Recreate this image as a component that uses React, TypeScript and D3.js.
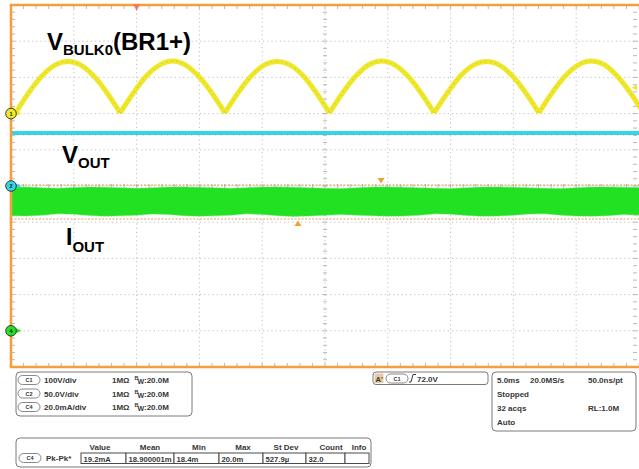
import React from "react";
import * as d3 from "d3";

// ---------- data ----------
const ch1TimeMs = [0, 0.36, 1.40, 2.44, 3.49, 4.53, 5.57, 6.61, 7.65, 8.69, 9.74, 10.78, 11.82, 12.86, 13.90, 14.94, 15.99, 17.03, 18.07, 19.11, 20.15, 21.19, 22.24, 23.28, 24.32, 25.36, 26.40, 27.44, 28.49, 29.53, 30.57, 31.61, 32.65, 33.69, 34.74, 35.78, 36.82, 37.86, 38.90, 39.94, 40.99, 42.03, 43.07, 44.11, 45.15, 46.19, 47.24, 48.28, 49.32, 50.36];
const ch1Volts = [16, 2, 57, 103, 134, 144, 134, 103, 57, 2, 57, 104, 134, 145, 134, 103, 57, 2, 57, 103, 134, 144, 134, 104, 57, 2, 57, 103, 135, 145, 134, 103, 57, 2, 57, 104, 134, 144, 134, 103, 57, 2, 57, 103, 134, 145, 135, 103, 57, 2];

const ch2TimeMs = [0, 12.5, 25, 37.5, 50];
const ch2Volts = [73.2, 73.1, 73.2, 73.2, 73.1];

const ch4TimeMs = [0, 1.25, 2.5, 3.75, 5, 6.25, 7.5, 8.75, 10, 11.25, 12.5, 13.75, 15, 16.25, 17.5, 18.75, 20, 21.25, 22.5, 23.75, 25, 26.25, 27.5, 28.75, 30, 31.25, 32.5, 33.75, 35, 36.25, 37.5, 38.75, 40, 41.25, 42.5, 43.75, 45, 46.25, 47.5, 48.75, 50];
const ch4MaxMa = [79.3, 79.4, 79.0, 78.8, 79.2, 79.4, 79.3, 79.1, 78.7, 79.0, 79.4, 79.5, 79.3, 79.0, 78.7, 79.1, 79.4, 79.5, 79.3, 79.0, 78.8, 78.6, 79.0, 79.4, 79.5, 79.3, 79.0, 78.8, 78.6, 79.1, 79.4, 79.5, 79.3, 79.0, 78.8, 78.6, 79.0, 79.4, 79.5, 79.3, 79.2];
const ch4MinMa = [63.6, 63.4, 63.9, 64.6, 64.4, 63.7, 63.3, 63.5, 63.8, 64.5, 64.3, 63.6, 63.3, 63.5, 63.9, 64.6, 64.3, 63.6, 63.2, 63.4, 63.8, 64.2, 63.9, 63.5, 63.3, 63.4, 63.8, 64.6, 64.4, 63.7, 63.3, 63.4, 63.8, 64.5, 64.6, 63.9, 63.4, 63.3, 63.6, 64.2, 63.9];

const cursorMa = [80.5, 61.8];
const cursorTimeMs = [29.46, 22.85];
const triggerTimeMs = 10;
const triggerLevelV = 72;

const channelIds = ["1", "2", "4"];
const channelOffsetsDiv = [2, 0, -4];
const channelColors = ["#efe82a", "#35d4e6", "#26e026"];

const infoChannels = ["C1", "C2", "C4"];
const infoScales = ["100V/div", "50.0V/div", "20.0mA/div"];
const infoImpedance = ["1MΩ", "1MΩ", "1MΩ"];
const infoBandwidth = [":20.0M", ":20.0M", ":20.0M"];

const measureHeaders = ["Value", "Mean", "Min", "Max", "St Dev", "Count", "Info"];
const measureValues = ["19.2mA", "18.900001m", "18.4m", "20.0m", "527.9µ", "32.0", ""];

const timebaseRows = [["5.0ms", "20.0MS/s", "50.0ns/pt"], ["Stopped", "", ""], ["32 acqs", "", "RL:1.0M"], ["Auto", "", ""]];

// ---------- layout ----------
const W = 639;
const H = 469;
const PX0 = 11, PX1 = 639, PY0 = 5, PY1 = 367;
const FONT = "'Liberation Sans', Arial, sans-serif";
const ORANGE = "#f3a03a";

export default function App() {
  const x = d3.scaleLinear().domain([0, 50]).range([PX0, PX1]);
  const yDiv = d3.scaleLinear().domain([-5, 5]).range([PY1, PY0]);
  const y1 = (v: number) => yDiv(channelOffsetsDiv[0] + v / 100);
  const y2 = (v: number) => yDiv(channelOffsetsDiv[1] + v / 50);
  const y4 = (ma: number) => yDiv(channelOffsetsDiv[2] + ma / 20);

  // ch1 split into humps at local minima so cusps stay sharp
  const ch1Pts = ch1TimeMs.map((t, i) => [t, ch1Volts[i]] as [number, number]);
  const mins: number[] = [0];
  for (let i = 1; i < ch1Pts.length - 1; i++) {
    if (ch1Pts[i][1] < ch1Pts[i - 1][1] && ch1Pts[i][1] < ch1Pts[i + 1][1]) mins.push(i);
  }
  mins.push(ch1Pts.length - 1);
  const hump = d3.line<[number, number]>().x((d) => x(d[0])).y((d) => y1(d[1])).curve(d3.curveMonotoneX);
  const ch1Path = mins.slice(1).map((end, k) => hump(ch1Pts.slice(mins[k], end + 1)) || "").join(" ");

  const ch2Path = d3.line<number>().x((_, i) => x(ch2TimeMs[i])).y((v) => y2(v))(ch2Volts) || "";

  const ch4Area = d3.area<number>()
    .x((_, i) => x(ch4TimeMs[i]))
    .y0((_, i) => y4(ch4MinMa[i]))
    .y1((v) => y4(v))(ch4MaxMa) || "";
  const ch4Top = d3.line<number>().x((_, i) => x(ch4TimeMs[i])).y((v) => y4(v))(ch4MaxMa) || "";
  const ch4Bot = d3.line<number>().x((_, i) => x(ch4TimeMs[i])).y((v) => y4(v))(ch4MinMa) || "";

  const majorT = d3.range(0, 50.001, 5);
  const majorD = d3.range(-5, 5.001, 1);
  const minorT = d3.range(0, 50.001, 1);
  const minorD = d3.range(-5, 5.001, 0.2);

  const txt = { fontFamily: FONT, fontWeight: 700 as const, fill: "#363636" };

  const pill = (cx: number, cy: number, label: string, key?: string) => (
    <g key={key}>
      <rect x={cx - 11} y={cy - 4.5} width={22} height={9} rx={4.5} fill="#fff" stroke="#6a6a6a" strokeWidth={0.8} />
      <text x={cx} y={cy + 2} fontSize={5.5} textAnchor="middle" style={txt}>{label}</text>
    </g>
  );

  const cellXs = [81, 126, 174, 219, 263, 306, 345, 369];
  const headerXs = [100, 150, 199, 243, 286, 331, 359];

  return (
    <div style={{ position: "absolute", left: 0, top: 0, width: W, height: H, background: "#fff" }}>
      <svg width={W} height={H} viewBox={`0 0 ${W} ${H}`} style={{ display: "block" }}>
        <defs>
          <clipPath id="plotClip">
            <rect x={PX0} y={PY0} width={PX1 - PX0 + 2} height={PY1 - PY0} />
          </clipPath>
        </defs>
        <rect x={0} y={0} width={W} height={H} fill="#fff" />

        {/* graticule dotted grid */}
        <g stroke="#b9b9b9" strokeWidth={0.9} strokeDasharray="1.2 3">
          {majorT.slice(1, -1).map((t) => (
            <line key={"gv" + t} x1={x(t)} x2={x(t)} y1={PY0} y2={PY1} />
          ))}
          {majorD.slice(1, -1).map((d) => (
            <line key={"gh" + d} x1={PX0} x2={PX1} y1={yDiv(d)} y2={yDiv(d)} />
          ))}
        </g>
        {/* edge + center minor ticks */}
        <g stroke="#a8a8a8" strokeWidth={0.8}>
          {minorT.map((t) => (
            <g key={"mt" + t}>
              <line x1={x(t)} x2={x(t)} y1={PY0} y2={PY0 + 4} />
              <line x1={x(t)} x2={x(t)} y1={PY1} y2={PY1 - 4} />
              <line x1={x(t)} x2={x(t)} y1={yDiv(0) - 2} y2={yDiv(0) + 2} />
            </g>
          ))}
          {minorD.map((d) => (
            <g key={"md" + d.toFixed(1)}>
              <line x1={PX0} x2={PX0 + 4} y1={yDiv(d)} y2={yDiv(d)} />
              <line x1={PX1 - 2} x2={PX1 - 6} y1={yDiv(d)} y2={yDiv(d)} />
              <line x1={x(25) - 2} x2={x(25) + 2} y1={yDiv(d)} y2={yDiv(d)} />
            </g>
          ))}
        </g>

        <g clipPath="url(#plotClip)">
          {/* ch4 current band */}
          <path d={ch4Area} fill="#22e022" />
          <path d={ch4Top} fill="none" stroke="#6fe66f" strokeWidth={1.2} strokeDasharray="1 1.5" />
          <path d={ch4Bot} fill="none" stroke="#6fe66f" strokeWidth={1.2} strokeDasharray="1 1.5" />

          {/* cursors */}
          {cursorMa.map((m, i) => (
            <line key={"cur" + i} x1={PX0} x2={PX1} y1={y4(m)} y2={y4(m)} stroke="#dba46c" strokeWidth={1.1} strokeDasharray="2 1.5" />
          ))}

          {/* ch2 */}
          <path d={ch2Path} fill="none" stroke="#35d4e6" strokeWidth={4} />
          <path d={ch2Path} fill="none" stroke="#2a8fc0" strokeWidth={0.8} strokeDasharray="1 5" transform="translate(0,1.8)" opacity={0.7} />

          {/* ch1 */}
          <path d={ch1Path} fill="none" stroke="#efe82a" strokeWidth={5} strokeLinejoin="round" />
          <path d={ch1Path} fill="none" stroke="#8f8a2a" strokeWidth={0.8} strokeDasharray="1 4" opacity={0.55} />
        </g>

        {/* cursor triangles */}
        <path d={`M${x(cursorTimeMs[0]) - 3.5},${y4(cursorMa[0]) - 7} L${x(cursorTimeMs[0]) + 3.5},${y4(cursorMa[0]) - 7} L${x(cursorTimeMs[0])},${y4(cursorMa[0]) - 1.5} Z`} fill="#f0a030" />
        <path d={`M${x(cursorTimeMs[1]) - 3.5},${y4(cursorMa[1]) + 7} L${x(cursorTimeMs[1]) + 3.5},${y4(cursorMa[1]) + 7} L${x(cursorTimeMs[1])},${y4(cursorMa[1]) + 1.5} Z`} fill="#f0a030" />

        {/* frame */}
        <g stroke={ORANGE} strokeWidth={2.6} fill="none">
          <line x1={PX0 - 1.3} x2={W} y1={PY0} y2={PY0} />
          <line x1={PX0 - 1.3} x2={W} y1={PY1} y2={PY1} />
          <line x1={PX0} x2={PX0} y1={PY0} y2={PY1} />
        </g>

        {/* trigger position marker */}
        <path d={`M${x(triggerTimeMs) - 3.5},${PY0 - 1} L${x(triggerTimeMs) + 3.5},${PY0 - 1} L${x(triggerTimeMs)},${PY0 + 6} Z`} fill="#f07a55" />
        {/* trigger level marker */}
        <path d={`M${PX1 - 2},${y1(triggerLevelV) - 3} L${PX1 - 2},${y1(triggerLevelV) + 3} L${PX1 - 7},${y1(triggerLevelV)} Z`} fill="#efe82a" />

        {/* channel markers */}
        {channelIds.map((id, i) => {
          const cy = yDiv(channelOffsetsDiv[i]);
          return (
            <g key={"cm" + id}>
              <path d={`M16,${cy - 2.5} L21.5,${cy} L16,${cy + 2.5} Z`} fill={channelColors[i]} />
              <circle cx={PX0} cy={cy} r={5.3} fill={channelColors[i]} stroke="#2a2a2a" strokeWidth={0.9} />
              <text x={PX0} y={cy + 2} fontSize={5.5} textAnchor="middle" fontFamily={FONT} fontWeight={700} fill="#222">{id}</text>
            </g>
          );
        })}

        {/* annotation labels */}
        <text x={47} y={50} fontFamily={FONT} fontWeight={700} fontSize={24} fill="#000">
          V<tspan fontSize={15} dy={5}>BULK0</tspan><tspan fontSize={24} dy={-5}>(BR1+)</tspan>
        </text>
        <text x={62} y={163} fontFamily={FONT} fontWeight={700} fontSize={24} fill="#000">
          V<tspan fontSize={15} dy={5}>OUT</tspan>
        </text>
        <text x={66} y={245} fontFamily={FONT} fontWeight={700} fontSize={23} fill="#000">
          I<tspan fontSize={15} dy={7}>OUT</tspan>
        </text>

        {/* channel info box */}
        <rect x={16} y={372} width={176} height={44} rx={4} fill="#fff" stroke="#7a7a7a" strokeWidth={1} />
        {infoChannels.map((c, i) => {
          const cy = 380 + i * 13.5;
          return (
            <g key={"ci" + c}>
              {pill(29, cy, c)}
              <text x={44} y={cy + 3} fontSize={8} style={txt}>{infoScales[i]}</text>
              <text x={112} y={cy + 3} fontSize={8} style={txt}>{infoImpedance[i]}</text>
              <text x={134.5} y={cy + 0} fontSize={5.5} style={txt}>B</text>
              <text x={137.5} y={cy + 4} fontSize={7} style={txt}>W</text>
              <text x={144} y={cy + 3} fontSize={8} style={txt}>{infoBandwidth[i]}</text>
            </g>
          );
        })}

        {/* trigger box */}
        <rect x={373} y={372} width={115} height={12.5} rx={3} fill="#fff" stroke="#7a7a7a" strokeWidth={1} />
        <rect x={374.5} y={373.5} width={9} height={9.5} fill="#e8c9a0" />
        <text x={375.5} y={381.5} fontSize={7.5} style={txt}>A'</text>
        {pill(397, 378.5, "C1")}
        <path d="M409,382 L411,382 L413,374.5 L416,374.5" fill="none" stroke="#363636" strokeWidth={1} />
        <text x={417} y={381.5} fontSize={8} style={txt}>{"72.0V"}</text>

        {/* timebase box */}
        <rect x={492} y={372} width={144} height={59} rx={4} fill="#fff" stroke="#7a7a7a" strokeWidth={1} />
        {timebaseRows.map((row, i) => (
          <g key={"tb" + i}>
            {row.map((s, j) => (
              <text key={j} x={[497, 530, 588][j]} y={383 + i * 14} fontSize={8} style={txt}>{s}</text>
            ))}
          </g>
        ))}

        {/* measurement box */}
        <rect x={16} y={438} width={355} height={29} rx={4} fill="#fff" stroke="#7a7a7a" strokeWidth={1} />
        {measureHeaders.map((h, i) => (
          <text key={"mh" + h} x={headerXs[i]} y={450} fontSize={8} textAnchor="middle" style={txt}>{h}</text>
        ))}
        {pill(30, 458, "C4")}
        <text x={46} y={461} fontSize={8} style={txt}>Pk-Pk*</text>
        {measureValues.map((v, i) => (
          <g key={"mv" + i}>
            <rect x={cellXs[i]} y={453} width={cellXs[i + 1] - cellXs[i]} height={10.5} fill="#fff" stroke="#4a4a4a" strokeWidth={1} />
            <text x={cellXs[i] + 2.5} y={461.5} fontSize={7.7} style={txt}>{v}</text>
          </g>
        ))}
      </svg>
    </div>
  );
}
